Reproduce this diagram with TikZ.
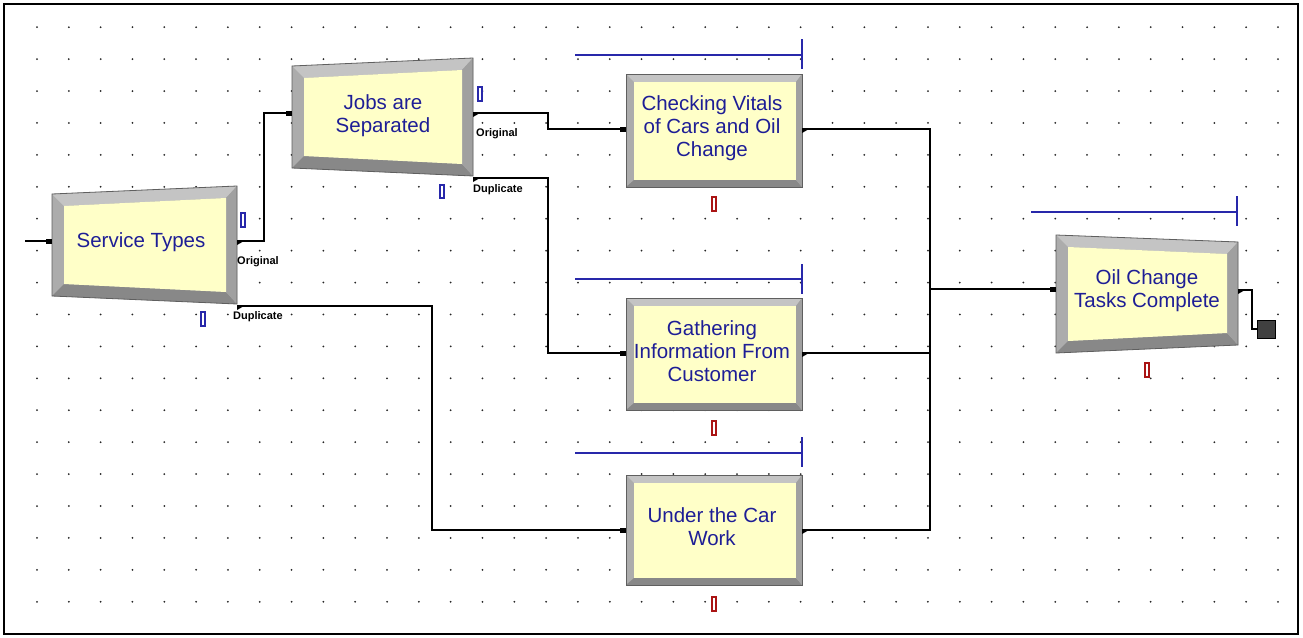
\documentclass[tikz,border=0pt]{standalone}
\usepackage{fontspec}
\setmainfont{Liberation Sans}
\definecolor{navy}{RGB}{30,30,150}
\definecolor{lineblue}{RGB}{40,40,170}
\definecolor{portred}{RGB}{170,20,20}
\definecolor{boxyellow}{RGB}{255,255,200}
\definecolor{bevtop}{RGB}{196,196,196}
\definecolor{bevside}{RGB}{172,172,172}
\definecolor{bevright}{RGB}{160,160,160}
\definecolor{bevbot}{RGB}{136,136,136}
\definecolor{bevline}{RGB}{95,95,95}
\tikzset{
  boxtext/.style={text=navy,font=\fontsize{20.5}{23}\selectfont,align=center,inner sep=0pt},
  portlabel/.style={font=\fontsize{11}{12}\selectfont\bfseries,inner sep=0pt,anchor=west},
  conn/.style={line width=1.3pt,black},
  queueline/.style={line width=1.5pt,lineblue},
  bluemark/.style={draw=lineblue,line width=1.2pt},
  redmark/.style={draw=portred,line width=1.2pt},
  gdot/.style={fill=black!85},
}
% process box: name, x1, y1, x2, y2
\newcommand{\mkproc}[5]{%
  \fill[bevside] (#2,#3) rectangle (#4,#5);
  \fill[bevtop] (#2,#3) -- (#4,#3) -- (#4-6,#3+8) -- (#2+8,#3+8) -- cycle;
  \fill[bevbot] (#2,#5) -- (#4,#5) -- (#4-6,#5-7) -- (#2+8,#5-7) -- cycle;
  \fill[bevright] (#4,#3) -- (#4,#5) -- (#4-6,#5-7) -- (#4-6,#3+8) -- cycle;
  \fill[boxyellow] (#2+8,#3+8) rectangle (#4-6,#5-7);
  \draw[bevline,line width=0.8pt] (#2,#3) rectangle (#4,#5);
  \coordinate (#1) at ({(#2+#4)/2},{(#3+#5)/2});
}
% separate/batch box: name, x1, x2, yTL, yTR, yBR, yBL
\newcommand{\mksep}[7]{%
  \fill[bevside] (#2,#4) -- (#3,#5) -- (#3,#6) -- (#2,#7) -- cycle;
  \fill[bevtop] (#2,#4) -- (#3,#5) -- (#3-11,#5+12) -- (#2+12,#4+12) -- cycle;
  \fill[bevbot] (#2,#7) -- (#3,#6) -- (#3-11,#6-12) -- (#2+12,#7-12) -- cycle;
  \fill[bevright] (#3,#5) -- (#3,#6) -- (#3-11,#6-12) -- (#3-11,#5+12) -- cycle;
  \fill[boxyellow] (#2+12,#4+12) -- (#3-11,#5+12) -- (#3-11,#6-12) -- (#2+12,#7-12) -- cycle;
  \draw[bevline,line width=0.8pt] (#2,#4) -- (#3,#5) -- (#3,#6) -- (#2,#7) -- cycle;
  \coordinate (#1) at ({(#2+#3)/2},{(#4+#5+#6+#7)/4});
}
\newcommand{\inport}[1]{\fill[black] ([xshift=-6pt,yshift=-2.5pt]#1) rectangle ([yshift=2.5pt]#1);}
\newcommand{\outport}[1]{\fill[black] ([yshift=1pt]#1) -- ([xshift=7pt]#1) -- ([yshift=-4pt]#1) -- cycle;}
\begin{document}
\begin{tikzpicture}[x=1pt,y=-1pt]
\useasboundingbox (0,0) rectangle (1303,637);
\fill[white] (0,0) rectangle (1303,637);
% grid dots
\foreach \i in {0,...,39}{\foreach \j in {0,...,18}{\fill[gdot] (37+31.82*\i,27.2+31.92*\j) circle (1.0);}}
% frame
\draw[line width=2pt] (4,4) rectangle (1298,634);

% ports / coordinates
\coordinate (start) at (25,241);
\coordinate (stIn) at (52,241);
\coordinate (stOut1) at (237,241);
\coordinate (stOut2) at (237,306);
\coordinate (jsIn) at (292,113);
\coordinate (jsOut1) at (473,113);
\coordinate (jsOut2) at (473,178);
\coordinate (cvIn) at (626,129);
\coordinate (cvOut) at (802,129);
\coordinate (giIn) at (626,353);
\coordinate (giOut) at (802,353);
\coordinate (ucIn) at (626,530);
\coordinate (ucOut) at (802,530);
\coordinate (ocIn) at (1056,289);
\coordinate (ocOut) at (1238,290);
\coordinate (merge) at (930,289);
\node[draw=black,fill=black!75,line width=0.8pt,minimum size=18pt,inner sep=0pt] (disp) at (1266.5,329) {};

% connectors
\draw[conn] (start) -- (stIn);
\draw[conn] (stOut1) -- (264,241) |- (jsIn);
\draw[conn] (stOut2) -- (432,306) |- (ucIn);
\draw[conn] (jsOut1) -- (548,113) |- (cvIn);
\draw[conn] (jsOut2) -- (548,178) |- (giIn);
\draw[conn] (cvOut) -- (930,129) -- (930,530) -- (ucOut);
\draw[conn] (giOut) -- (930,353);
\draw[conn] (merge) -- (ocIn);
\draw[conn] (ocOut) -- (1252,290) |- (disp.west);

% boxes
\mksep{st}{52}{237}{194}{186}{304}{296}
\mksep{js}{292}{473}{66}{58}{176}{168}
\mksep{oc}{1056}{1238}{235}{242}{345}{353}
\mkproc{cv}{626}{74}{802}{187}
\mkproc{gi}{626}{298}{802}{410}
\mkproc{uc}{626}{475}{802}{585}

\node[boxtext] (stT) at (141,242) {Service Types};
\node[boxtext] (jsT) at (383,116) {Jobs are\\Separated};
\node[boxtext] (cvT) at (712,128) {Checking Vitals\\of Cars and Oil\\Change};
\node[boxtext] (giT) at (712,351) {Gathering\\Information From\\Customer};
\node[boxtext] (ucT) at (712,527) {Under the Car\\Work};
\node[boxtext] (ocT) at (1147,291) {Oil Change\\Tasks Complete};

% ports
\inport{stIn} \inport{jsIn} \inport{cvIn} \inport{giIn} \inport{ucIn} \inport{ocIn}
\outport{stOut1} \outport{stOut2} \outport{jsOut1} \outport{jsOut2}
\outport{cvOut} \outport{giOut} \outport{ucOut} \outport{ocOut}

% port labels
\node[portlabel] (l1) at (237,262) {Original};
\node[portlabel] (l2) at (233,317) {Duplicate};
\node[portlabel] (l3) at (476,134) {Original};
\node[portlabel] (l4) at (473,190) {Duplicate};

% queue lines
\draw[queueline] (575,55) -- (802,55); \draw[queueline] (802,39) -- (802,69);
\draw[queueline] (575,279) -- (802,279); \draw[queueline] (802,264) -- (802,294);
\draw[queueline] (575,453) -- (802,453); \draw[queueline] (802,437) -- (802,467);
\draw[queueline] (1031,212) -- (1237,212); \draw[queueline] (1237,196) -- (1237,226);

% markers
\draw[bluemark] (241,213) rectangle (245,227);
\draw[bluemark] (201,312) rectangle (205,326);
\draw[bluemark] (478,87) rectangle (482,101);
\draw[bluemark] (440,185) rectangle (444,198);
\draw[redmark] (712,197) rectangle (716,211);
\draw[redmark] (712,421) rectangle (716,435);
\draw[redmark] (712,597) rectangle (716,611);
\draw[redmark] (1145,363) rectangle (1149,377);
\end{tikzpicture}
\end{document}
